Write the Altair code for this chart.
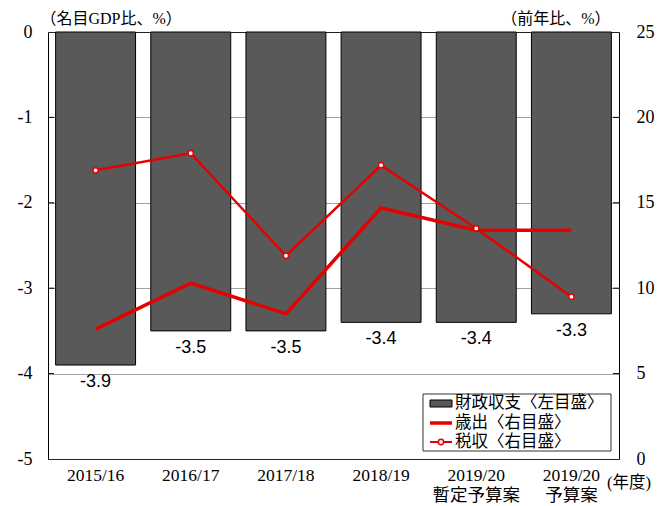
import altair as alt
import pandas as pd

# ---- data ----
years = ["2015/16", "2016/17", "2017/18", "2018/19", "2019/20\n暫定予算案", "2019/20\n予算案"]
balance = [-3.9, -3.5, -3.5, -3.4, -3.4, -3.3]          # 財政収支 (left axis, % of nominal GDP)
expenditure = [7.6, 10.3, 8.5, 14.7, 13.4, 13.4]         # 歳出 (right axis, y/y %)
tax = [16.9, 17.9, 11.9, 17.2, 13.5, 9.5]                # 税収 (right axis, y/y %)
left_ticks = [0, -1, -2, -3, -4, -5]
right_ticks = [0, 5, 10, 15, 20, 25]
left_inner_ticks = [-1, -2, -3, -4]
right_inner_ticks = [5, 10, 15, 20]
legend_labels = ["財政収支〈左目盛〉", "歳出〈右目盛〉", "税収〈右目盛〉"]
left_title = "（名目GDP比、%）"
right_title = "（前年比、%）"
x_unit = "(年度)"

SERIF = "Liberation Serif, Noto Sans CJK JP"
SANS = "Liberation Sans, Arial"
RED = "#e60000"
BAR = "#595959"

bar_df = pd.DataFrame({"year": years, "balance": balance})
exp_df = pd.DataFrame({"year": years, "value": expenditure})
tax_df = pd.DataFrame({"year": years, "value": tax})
lt_df = pd.DataFrame({"balance": left_inner_ticks})
rt_df = pd.DataFrame({"value": right_inner_ticks})
one = pd.DataFrame({"k": [0]})

x_axis = alt.Axis(title=None, labelAngle=0, domain=False, ticks=False,
                  labelExpr="split(datum.label, '\\n')",
                  labelFont=SERIF, labelFontSize=17.5, labelColor="black",
                  labelPadding=7, labelLineHeight=20, labelBaseline="top")
x_scale = alt.Scale(paddingInner=0.16, paddingOuter=0.08)


def X():
    return alt.X("year:N", sort=years, scale=x_scale, axis=x_axis)


left_scale = alt.Scale(domain=[-5, 0], nice=False, zero=False)
right_scale = alt.Scale(domain=[0, 25], nice=False)

left_axis = alt.Axis(
    values=left_ticks, grid=True, gridDash=[1, 1], gridColor="#444", gridWidth=1,
    domain=False, ticks=False, labelFont=SERIF, labelFontSize=18, labelColor="black",
    labelExpr="toString(datum.value)",
    labelPadding=16, title=left_title, titleAngle=0, titleX=-8, titleY=-6,
    titleAlign="left", titleBaseline="bottom", titleFont=SERIF, titleFontSize=16,
    titleFontWeight="normal", titleColor="black",
)
right_axis = alt.Axis(
    orient="right", values=right_ticks, grid=False, domain=False, ticks=False,
    labelFont=SERIF, labelFontSize=18, labelColor="black", labelPadding=17,
    title=right_title, titleAngle=0, titleX=-9, titleY=-6, titleAlign="right",
    titleBaseline="bottom", titleFont=SERIF, titleFontSize=16,
    titleFontWeight="normal", titleColor="black",
)


def YL():
    return alt.Y("balance:Q", scale=left_scale, axis=left_axis)


def YR():
    return alt.Y("value:Q", scale=right_scale, axis=right_axis)


bars = alt.Chart(bar_df).mark_bar(color=BAR, stroke="black", strokeWidth=1).encode(
    x=X(), y=YL(),
)
bar_labels = alt.Chart(bar_df).transform_calculate(
    lbl="toString(datum.balance)"
).mark_text(
    font=SANS, fontSize=18, color="black", baseline="middle", dy=17
).encode(
    x=X(), y=YL(), text="lbl:N",
)
lticks = alt.Chart(lt_df).mark_rule(color="black", strokeWidth=1).encode(
    x=alt.value(0), x2=alt.value(6), y=YL(),
)
left_layer = alt.layer(bars, bar_labels, lticks)

exp_line = alt.Chart(exp_df).mark_line(color=RED, strokeWidth=3.5).encode(
    x=X(), y=YR(),
)
tax_line = alt.Chart(tax_df).mark_line(color=RED, strokeWidth=2.5).encode(
    x=X(), y=YR(),
)
tax_pts = alt.Chart(tax_df).mark_point(
    shape="circle", filled=True, fill="white", stroke=RED, strokeWidth=1.5,
    size=28, opacity=1
).encode(x=X(), y=YR())
rticks = alt.Chart(rt_df).mark_rule(color="black", strokeWidth=1).encode(
    x=alt.value(565), x2=alt.value(571), y=YR(),
)
right_layer = alt.layer(exp_line, tax_line, tax_pts, rticks)

# ---- legend (manual) ----
leg_box = alt.Chart(one).mark_rect(fill="white", stroke="#333", strokeWidth=1).encode(
    x=alt.value(375), x2=alt.value(563), y=alt.value(362), y2=alt.value(419)
)
leg_bar = alt.Chart(one).mark_rect(fill=BAR, stroke="black", strokeWidth=1).encode(
    x=alt.value(382), x2=alt.value(404), y=alt.value(368), y2=alt.value(375)
)
leg_exp = alt.Chart(one).mark_rule(color=RED, strokeWidth=3.5).encode(
    x=alt.value(382), x2=alt.value(404), y=alt.value(391)
)
leg_tax = alt.Chart(one).mark_rule(color=RED, strokeWidth=2).encode(
    x=alt.value(382), x2=alt.value(404), y=alt.value(410)
)
leg_tax_pt = alt.Chart(one).mark_point(
    shape="circle", filled=True, fill="white", stroke=RED, strokeWidth=1.5,
    size=28, opacity=1
).encode(x=alt.value(393), y=alt.value(410))


def leg_text(label, ypos):
    return alt.Chart(pd.DataFrame({"t": [label]})).mark_text(
        font=SERIF, fontSize=16.5, color="black", align="left", baseline="middle"
    ).encode(x=alt.value(407), y=alt.value(ypos), text="t:N")


leg_texts = [leg_text(legend_labels[0], 371), leg_text(legend_labels[1], 391),
             leg_text(legend_labels[2], 410)]

unit_text = alt.Chart(pd.DataFrame({"t": [x_unit]})).mark_text(
    font=SERIF, fontSize=16.5, color="black", align="left", baseline="middle"
).encode(x=alt.value(559), y=alt.value(451), text="t:N")

legend_layer = alt.layer(leg_box, leg_bar, leg_exp, leg_tax, leg_tax_pt, *leg_texts, unit_text)

chart = alt.layer(left_layer, right_layer, legend_layer).resolve_scale(
    y="independent"
).properties(
    width=571, height=427,
    background="white",
    autosize=alt.AutoSizeParams(type="none"),
    padding={"left": 48, "top": 32, "right": 39, "bottom": 47},
).configure_view(stroke="black", strokeWidth=1)

chart.save("out.html", embed_options={"renderer": "svg", "actions": False})
